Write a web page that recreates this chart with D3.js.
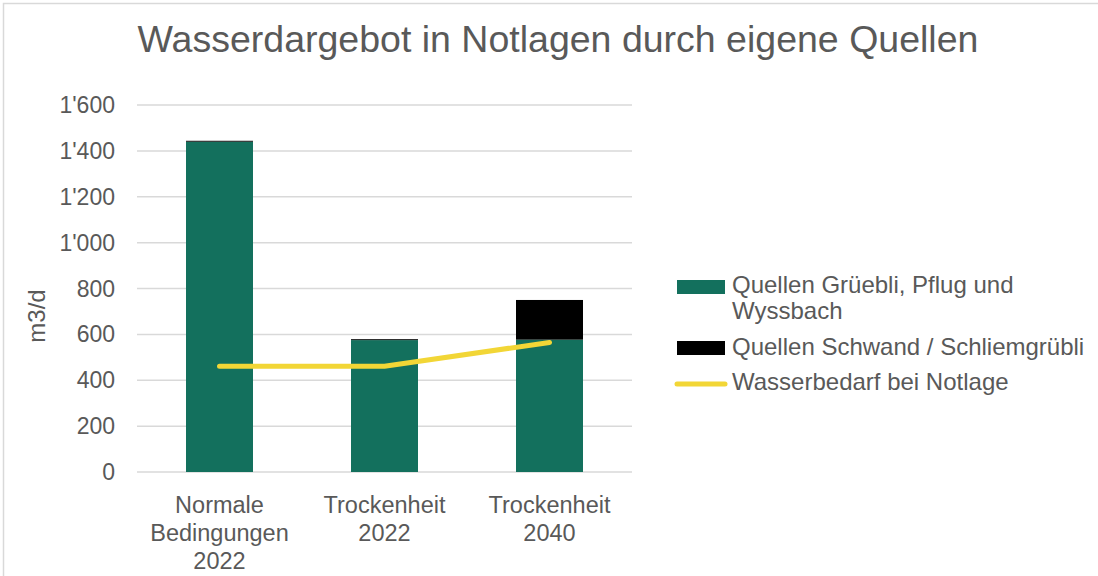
<!DOCTYPE html>
<html>
<head>
<meta charset="utf-8">
<script src="https://cdn.jsdelivr.net/npm/d3@7"></script>
<style>
  body { margin: 0; background: #fff; }
  svg { display: block; font-family: "Liberation Sans", Arial, sans-serif; }
</style>
</head>
<body>
<div id="chart"></div>
<script>
// data
const categories = [["Normale", "Bedingungen", "2022"], ["Trockenheit", "2022"], ["Trockenheit", "2040"]];
const quellenGruebli = [1440, 575, 577];
const quellenSchwand = [4, 4, 173];
const bedarf = [461, 461, 565];
const yTicks = [0, 200, 400, 600, 800, 1000, 1200, 1400, 1600];
const seriesNames = ["Quellen Grüebli, Pflug und Wyssbach", "Quellen Schwand / Schliemgrübli", "Wasserbedarf bei Notlage"];

const W = 1098, H = 576;
const margin = { top: 105, left: 137, right: 466, bottom: 104 };
const textColor = "#595959";

const svg = d3.select("#chart").append("svg").attr("width", W).attr("height", H);

// chart area border
svg.append("rect")
  .attr("x", 3.5).attr("y", 3.5)
  .attr("width", W + 10).attr("height", H + 10)
  .attr("fill", "none").attr("stroke", "#d9d9d9").attr("stroke-width", 1.5);

svg.append("text")
  .attr("x", 558).attr("y", 52)
  .attr("text-anchor", "middle")
  .attr("fill", textColor)
  .attr("font-size", 37.5)
  .text("Wasserdargebot in Notlagen durch eigene Quellen");

const x = d3.scaleBand()
  .domain(d3.range(categories.length))
  .range([margin.left, W - margin.right])
  .paddingInner(0.594)
  .paddingOuter(0.297);

const y = d3.scaleLinear().domain([0, 1600]).range([H - margin.bottom, margin.top]);

// gridlines
svg.append("g")
  .selectAll("line")
  .data(yTicks)
  .join("line")
  .attr("x1", margin.left).attr("x2", W - margin.right)
  .attr("y1", d => y(d)).attr("y2", d => y(d))
  .attr("stroke", "#d9d9d9").attr("stroke-width", 1.5);

// y axis labels
const fmt = d => d3.format(",")(d).replace(/,/g, "'");
svg.append("g")
  .selectAll("text")
  .data(yTicks)
  .join("text")
  .attr("x", 115).attr("y", d => y(d))
  .attr("dy", "0.35em")
  .attr("text-anchor", "end")
  .attr("fill", textColor)
  .attr("font-size", 23)
  .text(fmt);

svg.append("text")
  .attr("transform", "translate(45,316) rotate(-90)")
  .attr("text-anchor", "middle")
  .attr("fill", textColor)
  .attr("font-size", 24)
  .text("m3/d");

// stacked bars
const stacked = categories.map((c, i) => ({ i, g: quellenGruebli[i], s: quellenSchwand[i] }));
svg.append("g")
  .selectAll("rect")
  .data(stacked)
  .join("rect")
  .attr("x", d => x(d.i)).attr("width", x.bandwidth())
  .attr("y", d => y(d.g)).attr("height", d => y(0) - y(d.g))
  .attr("fill", "#13705d");
svg.append("g")
  .selectAll("rect")
  .data(stacked)
  .join("rect")
  .attr("x", d => x(d.i)).attr("width", x.bandwidth())
  .attr("y", d => y(d.g + d.s)).attr("height", d => y(d.g) - y(d.g + d.s))
  .attr("fill", "#000");

// line
const line = d3.line()
  .x((d, i) => x(i) + x.bandwidth() / 2)
  .y(d => y(d));
svg.append("path")
  .datum(bedarf)
  .attr("d", line)
  .attr("fill", "none")
  .attr("stroke", "#f2d636")
  .attr("stroke-width", 5)
  .attr("stroke-linecap", "round")
  .attr("stroke-linejoin", "round");

// x labels
const xl = svg.append("g")
  .selectAll("text")
  .data(categories)
  .join("text")
  .attr("x", (d, i) => x(i) + x.bandwidth() / 2)
  .attr("y", 513)
  .attr("text-anchor", "middle")
  .attr("fill", textColor)
  .attr("font-size", 23.5);
xl.selectAll("tspan")
  .data(d => d)
  .join("tspan")
  .attr("x", function () { return d3.select(this.parentNode).attr("x"); })
  .attr("dy", (d, i) => i === 0 ? 0 : 28)
  .text(d => d);

// legend
const lg = svg.append("g").attr("font-size", 24).attr("fill", textColor);
lg.append("rect").attr("x", 677).attr("y", 280).attr("width", 48).attr("height", 14).attr("fill", "#13705d");
lg.append("text").attr("x", 732).attr("y", 293)
  .selectAll("tspan")
  .data(["Quellen Grüebli, Pflug und", "Wyssbach"])
  .join("tspan")
  .attr("x", 732)
  .attr("dy", (d, i) => i === 0 ? 0 : 26)
  .text(d => d);
lg.append("rect").attr("x", 677).attr("y", 341).attr("width", 48).attr("height", 14).attr("fill", "#000");
lg.append("text").attr("x", 732).attr("y", 355).text(seriesNames[1]);
lg.append("line").attr("x1", 677).attr("x2", 725).attr("y1", 384).attr("y2", 384)
  .attr("stroke", "#f2d636").attr("stroke-width", 5).attr("stroke-linecap", "round");
lg.append("text").attr("x", 732).attr("y", 390).text(seriesNames[2]);
</script>
</body>
</html>
